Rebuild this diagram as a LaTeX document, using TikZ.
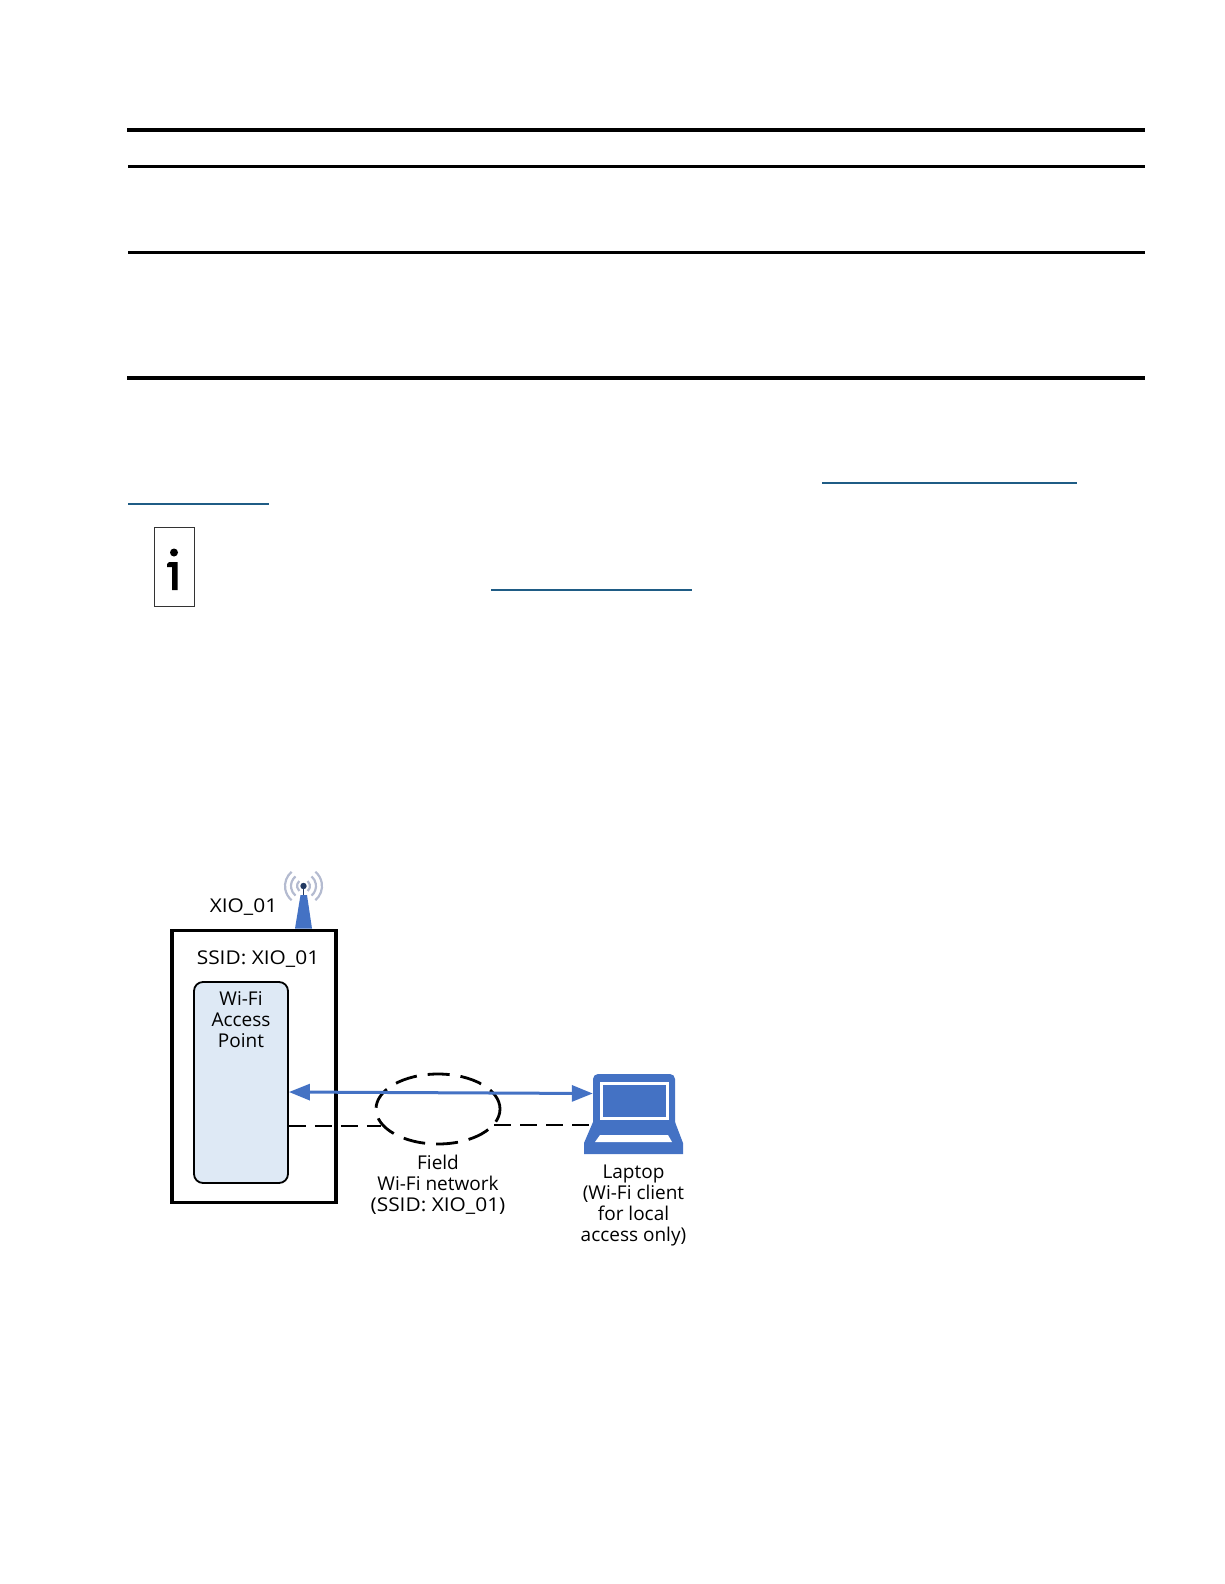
\documentclass[tikz,border=0pt]{standalone}
\usepackage{fontspec}
\setmainfont{Open Sans}
\newfontfamily\widecaps[FakeStretch=1.1]{Open Sans}
\usetikzlibrary{arrows.meta,shapes.geometric}
\definecolor{azul}{HTML}{4472C4}
\definecolor{pale}{HTML}{DEE9F5}
\definecolor{linkblue}{HTML}{1F5C85}
\definecolor{arcgray}{HTML}{B4BBD0}
\tikzset{
  lbl/.style={font=\fontsize{19}{21}\selectfont,align=center,inner sep=0pt,text=black},
  rulethick/.style={line width=4pt,black},
  rulethin/.style={line width=3pt,black},
  linkline/.style={line width=1.3pt,linkblue},
  outerbox/.style={draw=black,line width=3.2pt,minimum width=164pt,minimum height=272pt,inner sep=0pt},
  apbox/.style={draw=black,fill=pale,line width=1.8pt,rounded corners=9pt,minimum width=94pt,minimum height=201pt,inner sep=0pt},
  netring/.style={ellipse,draw=black,line width=2.8pt,dash pattern=on 22pt off 11pt,minimum width=124pt,minimum height=70pt,inner sep=0pt},
  hidden/.style={minimum width=82pt,minimum height=80pt,inner sep=0pt},
  dashlink/.style={draw=black,line width=1.8pt,dash pattern=on 17pt off 9pt},
  wifilink/.style={draw=azul,line width=3pt,{Triangle[length=21pt,width=16pt]}-{Triangle[length=21pt,width=16pt]},shorten <=0pt,shorten >=0pt},
}
\begin{document}
\begin{tikzpicture}[x=1pt,y=-1pt]
\useasboundingbox (0,0) rectangle (1224,1584);
% table rules
\draw[rulethick] (127,130) -- (1145,130);
\draw[rulethin] (128,166) -- (1145,166);
\draw[rulethin] (128,252) -- (1145,252);
\draw[rulethick] (127,378) -- (1145,378);
% hyperlink underlines
\draw[linkline] (822,483) -- (1077,483);
\draw[linkline] (128,504) -- (269,504);
\draw[linkline] (491,590) -- (692,590);
% info icon
\node[draw=black!80,line width=1.2pt,minimum width=39.5pt,minimum height=79pt,inner sep=0pt] (info) at (174.5,567) {};
\fill[black] (174,552.5) circle (4pt);
\fill[black] (169,562) -- (177.5,562) -- (177.5,590) -- (172,590) -- (172,567) -- (167,567) -- (167,564) -- cycle;
% device
\node[outerbox] (dev) at (254,1066.5) {};
\node[apbox] (ap) at (241,1082.5) {};
\node[lbl] (ssid) at (258,959) {\widecaps SSID: XIO\_01};
\node[lbl] (xio) at (243.5,907) {\widecaps XIO\_01};
\node[lbl] (aptxt) at (241,1019.5) {Wi-Fi\\Access\\Point};
% antenna
\foreach \r in {6.5,12.5,18.5}{
  \draw[arcgray,line width=2.2pt] (303.5,886) ++(-50:\r pt) arc[start angle=-50,end angle=50,radius=\r pt];
  \draw[arcgray,line width=2.2pt] (303.5,886) ++(130:\r pt) arc[start angle=130,end angle=230,radius=\r pt];
}
\fill[azul] (295,928.5) -- (300.5,895) -- (307,895) -- (312,928.5) -- cycle;
\draw[azul!50!black,line width=1.4pt] (303.5,886) -- (303.5,895);
\fill[azul!50!black] (303.5,886) circle (3.2pt);
% network
\node[netring] (net) at (438,1109) {};
\node[lbl] (nettxt) at (438,1185) {Field\\Wi-Fi network\\{\widecaps (SSID: XIO\_01)}};
% laptop
\node[hidden] (lap) at (634,1114) {};
\fill[azul,rounded corners=5pt] (593,1130) -- (593,1074) -- (675,1074) -- (675,1130) -- cycle;
\fill[azul] (593,1122) -- (675,1122) -- (683,1143) -- (683,1154) -- (584,1154) -- (584,1143) -- cycle;
\fill[white] (600,1082) rectangle (669,1120);
\fill[azul] (603,1085) rectangle (666,1117);
\fill[white] (600,1135) -- (668,1135) -- (672,1142) -- (595,1142) -- cycle;
\node[lbl] (laptxt) at (633.5,1205) {Laptop\\(Wi-Fi client\\for local\\access only)};
% connectors
\coordinate (d1) at (ap.east |- 0,1126);
\coordinate (d2) at (381,1126);
\coordinate (d3) at (494,1125);
\coordinate (d4) at (lap.west |- 0,1125);
\draw[dashlink] (d1) -- (d2);
\draw[dashlink] (d3) -- (d4);
\coordinate (a1) at (ap.east |- 0,1092);
\coordinate (a2) at (lap.west |- 0,1093.5);
\draw[wifilink] (a1) -- (a2);
\end{tikzpicture}
\end{document}
